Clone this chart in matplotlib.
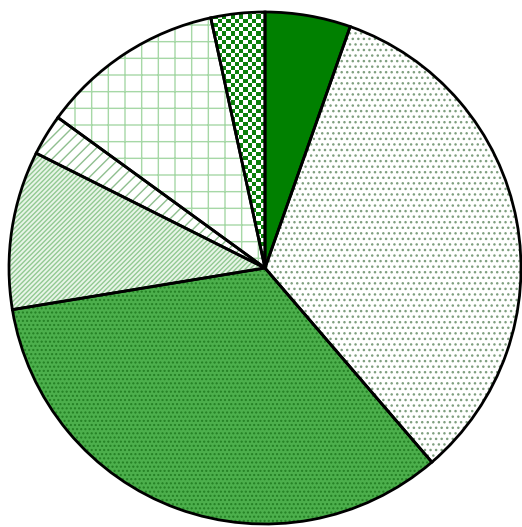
import numpy as np
import matplotlib
matplotlib.use("Agg")
import matplotlib.pyplot as plt

# slice shares (percent), clockwise from 12 o'clock
shares = [5.4, 33.3, 33.7, 10.0, 2.6, 11.6, 3.4]
face_colors = ["#008000", "#ffffff", "#4caf4c", "#e8f5e8", "#ffffff", "#ffffff", "#ffffff"]
hatches = [None, "...", "....", "///////", "///", "+", None]
hatch_colors = ["#008000", "#7f9f7f", "#237f23", "#92c992", "#8fbf8f", "#a6d8a6", "#008000"]

W, H = 522, 527
cx, cy, r = 265, 268, 256

fig = plt.figure(figsize=(W / 100, H / 100), dpi=100)
ax = fig.add_axes([0, 0, 1, 1])
ax.axis("off")

# pattern layer: edge colour drives the hatch colour
wedges, _ = ax.pie(shares, startangle=90, counterclock=False, radius=1,
                   colors=face_colors, wedgeprops=dict(linewidth=0))
for w, h, hc in zip(wedges, hatches, hatch_colors):
    w.set_edgecolor(hc)
    w.set_linewidth(0)
    if h:
        w.set_hatch(h)

# checkerboard texture for the last slice
n = 140
checker = (np.add.outer(np.arange(n), np.arange(n)) % 2).astype(float)
cmap = matplotlib.colors.ListedColormap(["#ffffff", "#0a7f0a"])
sq = 4.3 / r
im = ax.imshow(checker, cmap=cmap, extent=(-n * sq / 2, n * sq / 2, -n * sq / 2, n * sq / 2),
               interpolation="nearest", zorder=2)
im.set_clip_path(wedges[-1])

# outline layer
outl, _ = ax.pie(shares, startangle=90, counterclock=False, radius=1,
                 wedgeprops=dict(facecolor="none", edgecolor="black", linewidth=2.0))
for w in outl:
    w.set_zorder(3)

ax.set_xlim(-cx / r, (W - cx) / r)
ax.set_ylim(-(H - cy) / r, cy / r)
ax.set_aspect("auto")

fig.savefig("out.png", dpi=100)
